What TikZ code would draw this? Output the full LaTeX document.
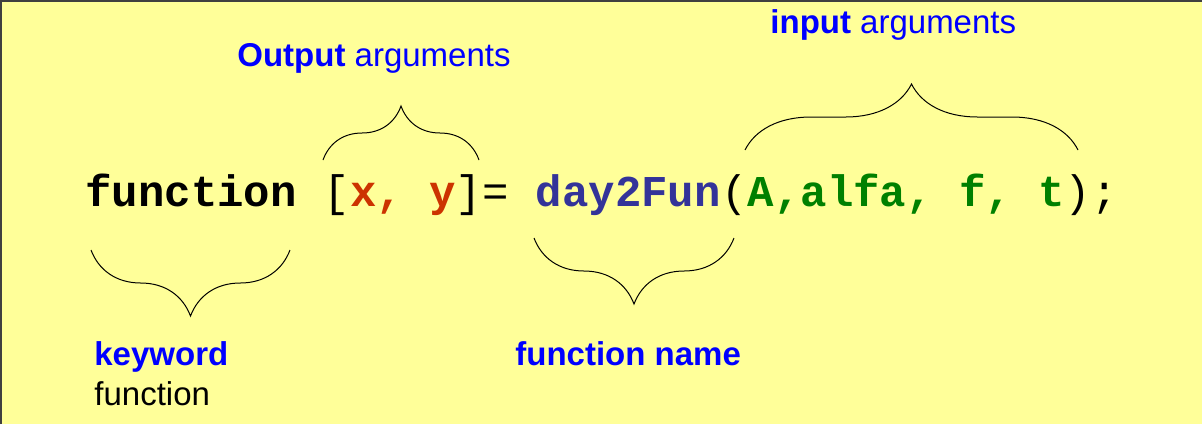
\documentclass[tikz,border=0pt]{standalone}
\usepackage{fontspec}
\setmainfont{Liberation Sans}
\newfontfamily\codefont{Liberation Mono}
\usetikzlibrary{decorations.pathreplacing}

\definecolor{bgyellow}{HTML}{FFFF99}
\definecolor{framegray}{HTML}{404040}
\definecolor{outred}{HTML}{CC3300}
\definecolor{fnblue}{HTML}{333399}
\definecolor{argsgreen}{HTML}{008000}
\definecolor{lblblue}{HTML}{0000FF}

\newlength{\cw}
\setlength{\cw}{13.2pt}
\newcommand{\plain}[1]{{\mdseries #1}}

\tikzset{
  code/.style={inner sep=0pt, anchor=base west, font=\codefont\bfseries\fontsize{22}{26}\selectfont},
  lbl/.style={inner sep=0pt, anchor=base west, font=\fontsize{16.5}{20}\selectfont, text=lblblue},
  brc/.style={decorate, decoration={brace, amplitude=#1}, line width=0.5pt}
}

\begin{document}
\begin{tikzpicture}[x=0.5pt,y=-0.5pt]
\useasboundingbox (0,0) rectangle (1202,424);
\fill[bgyellow] (0,0) rectangle (1202,424);
\draw[framegray, line width=1pt] (1,424) -- (1,1) -- (1202,1);

% the code line
\node[code] (kw) at (85,206) {function};
\node[code] (out) at ([xshift=\cw] kw.base east) {\plain{[}\textcolor{outred}{x, y}\plain{]=}};
\node[code, text=fnblue] (fn) at ([xshift=\cw] out.base east) {day2Fun};
\node[code] (args) at (fn.base east) {\plain{(}\textcolor{argsgreen}{A,alfa, f, t}\plain{);}};

% braces
\draw[brc=27pt] (323,160) -- (479,160);
\draw[brc=33pt] (745,150) -- (1078,150);
\draw[brc=33pt] (290,250) -- (91,250);
\draw[brc=33pt] (734,238) -- (534,238);

% labels
\node[lbl] (outlbl) at (237,66) {\textbf{Output} arguments};
\node[lbl] (inlbl) at (770,33) {\textbf{input} arguments};
\node[lbl] (kwlbl) at (94,365) {\textbf{keyword}};
\node[lbl, text=black] (kwlbl2) at (94,405) {function};
\node[lbl] (fnlbl) at (515,365) {\textbf{function name}};
\end{tikzpicture}
\end{document}
